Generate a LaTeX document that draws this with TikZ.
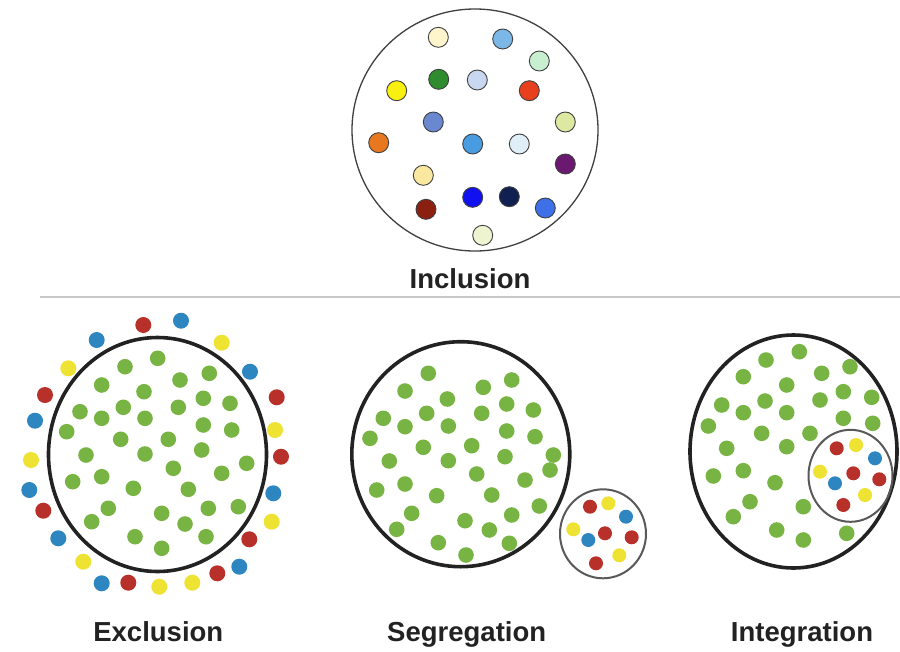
\documentclass[tikz,border=0pt]{standalone}
\usepackage{fontspec}
\setmainfont{Liberation Sans}
\definecolor{grn}{HTML}{78B443}
\definecolor{rd}{HTML}{B8302A}
\definecolor{bl}{HTML}{2E86C1}
\definecolor{yl}{HTML}{EEE232}
\definecolor{ink}{HTML}{222222}
\tikzset{
  bigring/.style={draw=ink, line width=3.6pt},
  smallring/.style={draw=black!65, line width=2pt},
  topdot/.style={draw=black!75, line width=0.9pt},
  lbl/.style={font=\bfseries\fontsize{27.5}{30}\selectfont, text=ink, inner sep=0pt, anchor=base},
}
\begin{document}
\begin{tikzpicture}[x=1pt,y=-1pt]
\useasboundingbox (0,0) rectangle (900,651);
\fill[white] (0,0) rectangle (900,651);
% ---------- Inclusion ----------
\draw[draw=black!75, line width=1.3pt] (475,130) ellipse [x radius=123, y radius=121];
\foreach \x/\y/\c in {438.3/37.3/FFF5CC, 502.7/39/7BB8E8, 539.3/61/C8F0D0,
  438.7/79.3/2E8B2E, 477.3/80/C8D8F0, 529.3/90.7/E8401C, 396.7/90.7/F8F010,
  433.3/122/6A88D0, 565.3/122/DDE8A0, 378.7/142.7/E87820, 472.7/144/4A9CE0,
  519.3/144/E0EEF8, 565.3/164/6A1870, 423.3/175.3/FAE8A0, 426/209.3/8B2010,
  472.7/197.3/1010F0, 509.3/196.7/102050, 545.3/208/3E70E8, 482.7/235.3/EEF4D0}
  {\definecolor{tmp}{HTML}{\c}\filldraw[topdot, fill=tmp] (\x,\y) circle (10);}
\node[lbl] (incl) at (470,288.3) {Inclusion};
\draw[black!22, line width=2pt] (40,297) -- (900,297);
% ---------- Exclusion ----------
\draw[bigring] (157.5,454.5) ellipse [x radius=109, y radius=117];
\foreach \x/\y in {157.7/358.3, 125/366.7, 209.3/373.3, 101.7/385, 180/380,
  144/391.7, 80/411.7, 123.3/407.3, 178.3/407.3, 203.3/398.3, 230/403.3,
  101.7/418.3, 145/418.3, 203.3/425, 66.7/431.7, 231.7/430, 120.7/439.3,
  168.3/439.3, 86/455, 145/454, 201.7/450, 246.7/463.3, 173.3/468.3,
  221.7/473.3, 101.7/476.7, 72.7/481.7, 133.3/488.3, 188.3/489.3,
  108.3/508.3, 161.7/513.3, 208.3/508.3, 238.3/506.7, 91.7/521.7,
  185/524, 135/536.7, 206/536.7, 161.7/548.3}
  {\fill[grn] (\x,\y) circle (7.8);}
\foreach \x/\y/\c in {143.3/325/rd, 181/320.7/bl, 96.7/340/bl, 221.7/342.7/yl,
  68.3/368.3/yl, 250/371.7/bl, 45/395/rd, 276.7/397.3/rd, 35/420.7/bl,
  275/430/yl, 281/456.7/rd, 31/460/yl, 29.3/490/bl, 273.3/493.3/bl,
  43.3/510.7/rd, 271.7/521.7/yl, 58.3/538.3/bl, 249.3/539.3/rd,
  83.3/561.7/yl, 239.3/566.7/bl, 101.7/583.3/bl, 128.3/582.7/rd,
  159.3/586.7/yl, 192.3/582.7/yl, 217.3/573.3/rd}
  {\fill[\c] (\x,\y) circle (8);}
\node[lbl] (excl) at (158.3,641.7) {Exclusion};
% ---------- Segregation ----------
\draw[bigring] (460.8,454.2) ellipse [x radius=109, y radius=112.5];
\foreach \x/\y in {428.3/373.3, 405/391, 483.3/387.3, 511.7/380, 447.3/399,
  506.7/404, 533.3/410, 383.3/418.3, 426.7/413.3, 481.7/413.3, 405/426.7,
  448.3/426, 506.7/431, 535/436.7, 370/438.3, 423.3/447.3, 471.7/445.7,
  505/456.7, 553.3/455, 389.3/461, 448.3/460.7, 550/470, 476.7/474,
  525/480, 405/484, 376.7/490, 436.7/495.7, 491.7/495, 539.3/506,
  411.7/513.3, 511.7/515, 465/520.7, 396.7/529.3, 489.3/530, 438.3/542.7,
  509.3/543.3, 466/555}
  {\fill[grn] (\x,\y) circle (7.8);}
\draw[smallring] (603,533.8) ellipse [x radius=43, y radius=44.5];
\foreach \x/\y/\c in {590/506.7/rd, 608.3/503.3/yl, 626/516.7/bl,
  573.3/529.3/yl, 605/533.3/rd, 631.7/537.3/rd, 588.3/540/bl,
  619.3/555.3/yl, 596/563.3/rd}
  {\fill[\c] (\x,\y) circle (7);}
\node[lbl] (segr) at (466.7,641.7) {Segregation};
% ---------- Integration ----------
\draw[bigring] (793.5,451.5) ellipse [x radius=103.5, y radius=116.5];
\foreach \x/\y in {799.3/351.7, 766/360, 850/366.7, 743.3/376.7, 821.7/373.3,
  786.7/385, 843.3/391.7, 871.7/397.3, 721.7/405, 765/401, 743.3/412.7,
  820/400, 786.7/412.7, 843.3/418.3, 872.7/423.3, 708.3/426, 761.7/433.3,
  810/433.3, 726.7/448.3, 786.7/446.7, 743.3/470.7, 713.3/476, 775/482.7,
  750/501.7, 733.3/516.7, 803.3/506.7, 776.7/530, 803.3/540, 846.7/533.3}
  {\fill[grn] (\x,\y) circle (7.8);}
\draw[smallring] (850.5,475.8) ellipse [x radius=42, y radius=46];
\foreach \x/\y/\c in {836.7/448.3/rd, 856/445/yl, 875/458.3/bl,
  820/471.7/yl, 853.3/473.3/rd, 879.3/479.3/rd, 835/483.3/bl,
  865/495/yl, 843.3/505/rd}
  {\fill[\c] (\x,\y) circle (7);}
\node[lbl] (integ) at (802,641.7) {Integration};
\end{tikzpicture}
\end{document}
